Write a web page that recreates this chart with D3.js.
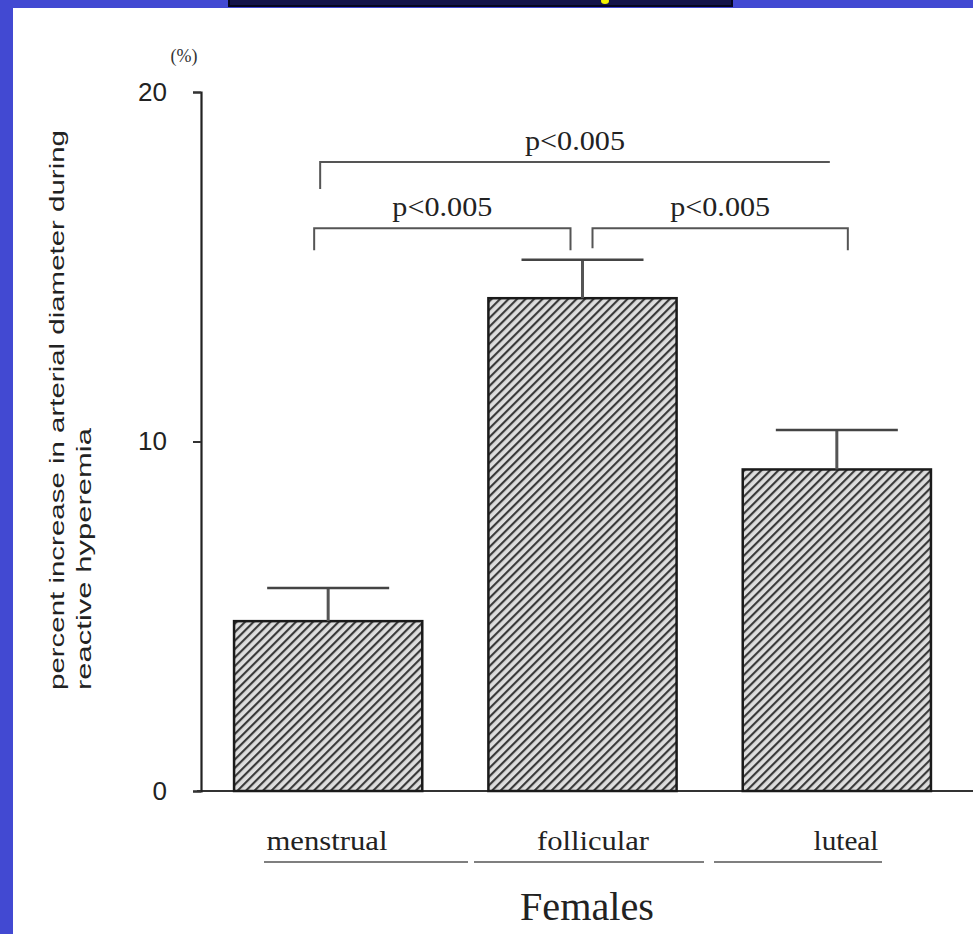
<!DOCTYPE html>
<html>
<head>
<meta charset="utf-8">
<script src="https://cdn.jsdelivr.net/npm/d3@7"></script>
<style>
  body { margin: 0; background: #fff; }
  svg { display: block; }
</style>
</head>
<body>
<div id="chart"></div>
<script>
// data
const phases = ['menstrual', 'follicular', 'luteal']
const means = [4.86, 14.1, 9.2]
const sems = [0.95, 1.1, 1.13]
const yTicks = [0, 10, 20]
const yLabelLines = ['percent increase in arterial diameter during', 'reactive hyperemia']
const groupLabel = 'Females'
// comparisons: from bar, to bar, bracket level (in %), label
const compFrom = [0, 0, 1]
const compTo = [2, 1, 2]
const compLevel = [18, 16.1, 16.1]
const compText = ['p<0.005', 'p<0.005', 'p<0.005']

const WIDTH = 973
const HEIGHT = 934
const BLUE = '#4249d2'

const svg = d3.select('#chart').append('svg')
  .attr('width', WIDTH)
  .attr('height', HEIGHT)

// slide frame
svg.append('rect').attr('x', 0).attr('y', 0).attr('width', WIDTH).attr('height', HEIGHT).attr('fill', '#fff')
svg.append('rect').attr('x', 0).attr('y', 0).attr('width', 13).attr('height', HEIGHT).attr('fill', BLUE)
svg.append('rect').attr('x', 0).attr('y', 0).attr('width', WIDTH).attr('height', 8).attr('fill', BLUE)
svg.append('rect').attr('x', 228).attr('y', 0).attr('width', 505).attr('height', 7).attr('fill', '#050520')
svg.append('rect').attr('x', 230).attr('y', 0).attr('width', 501).attr('height', 5).attr('fill', '#14144a')
svg.append('ellipse').attr('cx', 605).attr('cy', 1).attr('rx', 4).attr('ry', 3).attr('fill', '#f2f200')

// hatch pattern
const defs = svg.append('defs')
const pat = defs.append('pattern')
  .attr('id', 'hatch')
  .attr('patternUnits', 'userSpaceOnUse')
  .attr('width', 6)
  .attr('height', 6)
  .attr('patternTransform', 'rotate(45)')
pat.append('rect').attr('width', 6).attr('height', 6).attr('fill', '#dedede')
pat.append('line').attr('x1', 1).attr('y1', 0).attr('x2', 1).attr('y2', 6)
  .attr('stroke', '#3a3a3a').attr('stroke-width', 2.3)

// scales
const y = d3.scaleLinear().domain([0, 20]).range([791, 92])
const x = d3.scaleBand().domain(phases).range([201, 964])
  .paddingInner(0.26).paddingOuter(0.13)

const g = svg.append('g')

// baseline
g.append('line')
  .attr('x1', 197).attr('x2', WIDTH)
  .attr('y1', y(0)).attr('y2', y(0))
  .attr('stroke', '#333').attr('stroke-width', 2)

// y axis
const yAxis = d3.axisLeft(y).tickValues(yTicks).tickSize(8).tickPadding(26)
const ax = g.append('g').attr('transform', 'translate(201,0)').call(yAxis)
ax.select('.domain').attr('stroke', '#222').attr('stroke-width', 2.2)
ax.selectAll('.tick line').attr('stroke', '#333').attr('stroke-width', 2)
ax.selectAll('.tick text')
  .attr('font-family', 'Liberation Sans, Arial, sans-serif')
  .attr('font-size', 26)
  .attr('fill', '#222')

svg.append('text')
  .attr('x', 184).attr('y', 62)
  .attr('text-anchor', 'middle')
  .attr('font-family', 'Liberation Serif, serif')
  .attr('font-size', 18)
  .attr('fill', '#333')
  .text('(%)')

// y axis label
const yl = svg.append('text')
  .attr('transform', 'translate(64,690) rotate(-90)')
  .attr('font-family', 'Liberation Sans, Arial, sans-serif')
  .attr('font-size', 21)
  .attr('fill', '#222')
yl.append('tspan').attr('x', 0).attr('y', 0)
  .attr('textLength', 560).attr('lengthAdjust', 'spacingAndGlyphs')
  .text(yLabelLines[0])
yl.append('tspan').attr('x', 0).attr('y', 27)
  .attr('textLength', 262).attr('lengthAdjust', 'spacingAndGlyphs')
  .text(yLabelLines[1])

// bars
g.selectAll('rect.bar')
  .data(phases)
  .enter()
  .append('rect')
  .attr('class', 'bar')
  .attr('x', d => x(d))
  .attr('y', (d, i) => y(means[i]))
  .attr('width', x.bandwidth())
  .attr('height', (d, i) => y(0) - y(means[i]))
  .attr('fill', 'url(#hatch)')
  .attr('stroke', '#1a1a1a')
  .attr('stroke-width', 2.5)

// error bars (upper only)
const capHalf = 61
phases.forEach((p, i) => {
  const cx = x(p) + x.bandwidth() / 2
  g.append('line')
    .attr('x1', cx).attr('x2', cx)
    .attr('y1', y(means[i])).attr('y2', y(means[i] + sems[i]))
    .attr('stroke', '#555').attr('stroke-width', 3)
  g.append('line')
    .attr('x1', cx - capHalf).attr('x2', cx + capHalf)
    .attr('y1', y(means[i] + sems[i])).attr('y2', y(means[i] + sems[i]))
    .attr('stroke', '#444').attr('stroke-width', 2.5)
})

// significance brackets
const center = i => x(phases[i]) + x.bandwidth() / 2
const bracketOff = [[-8, -7, 27, 0], [-14, -12, 22, 22], [10, 11, 20, 22]]
compFrom.forEach((f, k) => {
  const x1 = center(f) + bracketOff[k][0]
  const x2 = center(compTo[k]) + bracketOff[k][1]
  const yy = y(compLevel[k])
  const path = d3.path()
  path.moveTo(x1, yy + bracketOff[k][2])
  path.lineTo(x1, yy)
  path.lineTo(x2, yy)
  path.lineTo(x2, yy + bracketOff[k][3])
  g.append('path')
    .attr('d', path.toString())
    .attr('fill', 'none')
    .attr('stroke', '#555')
    .attr('stroke-width', 2)
  g.append('text')
    .attr('x', (x1 + x2) / 2)
    .attr('y', yy - 12)
    .attr('text-anchor', 'middle')
    .attr('font-family', 'Liberation Serif, serif')
    .attr('font-size', 28)
    .attr('textLength', 100)
    .attr('lengthAdjust', 'spacingAndGlyphs')
    .attr('fill', '#222')
    .text(compText[k])
})

// category labels and underline
const catWidth = [121, 112, 65]
const catX = [327, 593, 846]
phases.forEach((p, i) => {
  svg.append('text')
    .attr('x', catX[i]).attr('y', 850)
    .attr('text-anchor', 'middle')
    .attr('font-family', 'Liberation Serif, serif')
    .attr('font-size', 28)
    .attr('textLength', catWidth[i])
    .attr('lengthAdjust', 'spacingAndGlyphs')
    .attr('fill', '#222')
    .text(p)
})
const underline = [[264, 468], [474, 704], [714, 882]]
underline.forEach(u => {
  svg.append('line')
    .attr('x1', u[0]).attr('x2', u[1])
    .attr('y1', 862).attr('y2', 862)
    .attr('stroke', '#555').attr('stroke-width', 1.6)
})

svg.append('text')
  .attr('x', 587).attr('y', 920)
  .attr('text-anchor', 'middle')
  .attr('font-family', 'Liberation Serif, serif')
  .attr('font-size', 40)
  .attr('textLength', 134)
  .attr('lengthAdjust', 'spacingAndGlyphs')
  .attr('fill', '#222')
  .text(groupLabel)
</script>
</body>
</html>
